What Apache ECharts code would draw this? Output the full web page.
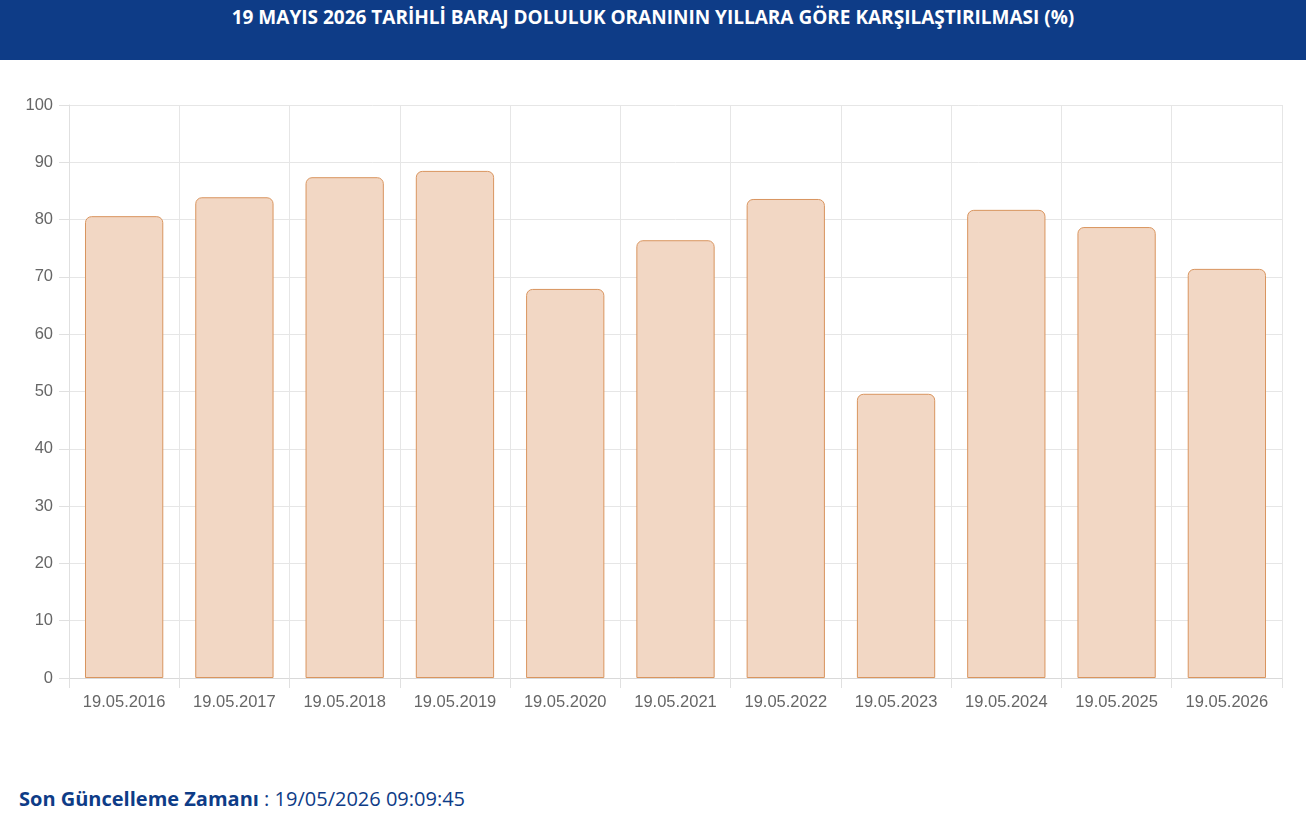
<!DOCTYPE html>
<html>
<head>
<meta charset="utf-8">
<script src="https://cdn.jsdelivr.net/npm/echarts@6/dist/echarts.min.js"></script>
<style>
body{margin:0;background:#fff;font-family:"Open Sans",sans-serif;}
#head{height:60px;background:#0e3c87;color:#fff;font-weight:bold;font-size:19px;text-align:center;line-height:34px;}
#chart{width:1306px;height:690px;position:absolute;top:60px;left:0;}
#foot{position:absolute;top:785px;left:19px;font-size:20px;color:#0e3c87;}
</style>
</head>
<body>
<div id="head">19 MAYIS 2026 TARİHLİ BARAJ DOLULUK ORANININ YILLARA GÖRE KARŞILAŞTIRILMASI (%)</div>
<div id="chart"></div>
<div id="foot"><b>Son Güncelleme Zamanı</b> : 19/05/2026 09:09:45</div>
<script>
let dates = ['19.05.2016','19.05.2017','19.05.2018','19.05.2019','19.05.2020','19.05.2021','19.05.2022','19.05.2023','19.05.2024','19.05.2025','19.05.2026'];
let values = [80.6, 83.9, 87.4, 88.5, 67.9, 76.4, 83.6, 49.6, 81.7, 78.7, 71.4];

let myChart = echarts.init(document.getElementById('chart'));
let option = {
    animation: false,
    grid: {left: 69, right: 24, top: 45, bottom: 72},
    xAxis: {
        type: 'category',
        data: dates,
        axisLine: {lineStyle: {color: '#d9d9d9'}},
        axisTick: {show: true, length: 10, interval: 0, lineStyle: {color: '#e0e0e0'}},
        splitLine: {show: true, interval: 0, lineStyle: {color: '#e6e6e6'}},
        axisLabel: {interval: 0, color: '#666', fontSize: 16.5, fontFamily: 'Liberation Sans', margin: 16}
    },
    yAxis: {
        type: 'value', min: 0, max: 100, interval: 10,
        axisLine: {show: true, lineStyle: {color: '#e0e0e0'}},
        axisTick: {show: true, length: 10, lineStyle: {color: '#e0e0e0'}},
        splitLine: {lineStyle: {color: '#e6e6e6'}},
        axisLabel: {color: '#666', fontSize: 16.5, fontFamily: 'Liberation Sans', margin: 16}
    },
    series: [{
        type: 'bar',
        data: values,
        barWidth: '71%',
        itemStyle: {color: '#f2d7c4', borderColor: '#d9955f', borderWidth: 1, borderRadius: [6, 6, 0, 0]}
    }]
};
myChart.setOption(option);
</script>
</body>
</html>
